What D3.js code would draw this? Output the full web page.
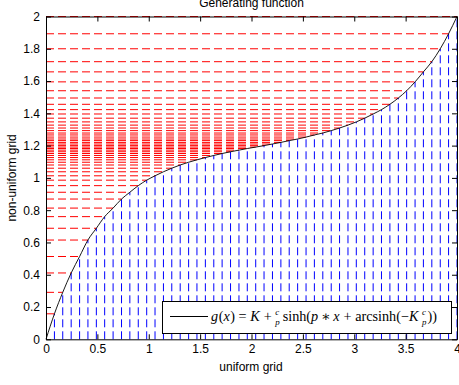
<!DOCTYPE html>
<html>
<head>
<meta charset="utf-8">
<script src="https://cdn.jsdelivr.net/npm/d3@7"></script>
<style>
  body { margin: 0; background: #fff; }
  svg text { font-family: Arial, "Liberation Sans", sans-serif; }
</style>
</head>
<body>
<svg id="chart" width="459" height="385"></svg>
<script>
// uniform grid points (x) and the generated non-uniform grid values g(x)
const uniformGrid = [
  0, 0.082, 0.163, 0.245, 0.327, 0.408, 0.490, 0.571, 0.653, 0.735,
  0.816, 0.898, 0.980, 1.061, 1.143, 1.224, 1.306, 1.388, 1.469, 1.551,
  1.633, 1.714, 1.796, 1.878, 1.959, 2.041, 2.122, 2.204, 2.286, 2.367,
  2.449, 2.531, 2.612, 2.694, 2.776, 2.857, 2.939, 3.020, 3.102, 3.184,
  3.265, 3.347, 3.429, 3.510, 3.592, 3.673, 3.755, 3.837, 3.918, 4.0
];
const nonUniformGrid = [
  0, 0.158, 0.291, 0.411, 0.513, 0.615, 0.688, 0.760, 0.813, 0.869,
  0.911, 0.952, 0.986, 1.013, 1.038, 1.060, 1.080, 1.097, 1.112, 1.126,
  1.139, 1.151, 1.162, 1.172, 1.182, 1.191, 1.200, 1.210, 1.220, 1.231,
  1.241, 1.253, 1.266, 1.278, 1.293, 1.309, 1.327, 1.347, 1.370, 1.396,
  1.423, 1.456, 1.495, 1.540, 1.595, 1.657, 1.720, 1.800, 1.893, 2.0
];
const xTicks = [0, 0.5, 1, 1.5, 2, 2.5, 3, 3.5, 4];
const yTicks = [0, 0.2, 0.4, 0.6, 0.8, 1, 1.2, 1.4, 1.6, 1.8, 2];

const svg = d3.select('#chart');

const x = d3.scaleLinear().domain([0, 4]).range([46, 457]);
const y = d3.scaleLinear().domain([0, 2]).range([339.3, 16.5]);

const pts = uniformGrid.map((d, i) => ({ x: d, g: nonUniformGrid[i] }));

// vertical blue lines: from the x axis up to the curve
svg.append('g').selectAll('line')
  .data(pts)
  .join('line')
    .attr('x1', d => x(d.x))
    .attr('x2', d => x(d.x))
    .attr('y1', y(0))
    .attr('y2', d => y(d.g))
    .attr('stroke', '#0000ff')
    .attr('stroke-width', 1)
    .attr('stroke-dasharray', '8,4');

// horizontal red lines: from the y axis across to the curve
svg.append('g').selectAll('line')
  .data(pts)
  .join('line')
    .attr('x1', x(0))
    .attr('x2', d => x(d.x))
    .attr('y1', d => y(d.g))
    .attr('y2', d => y(d.g))
    .attr('stroke', '#ff0000')
    .attr('stroke-width', 1)
    .attr('stroke-dasharray', '8,4');

// the generating function
const line = d3.line()
  .x(d => x(d.x))
  .y(d => y(d.g))
  .curve(d3.curveMonotoneX);

svg.append('path')
  .datum(pts)
  .attr('d', line)
  .attr('fill', 'none')
  .attr('stroke', '#000')
  .attr('stroke-width', 0.9);

// axes, ticks inward on all four sides
function styleAxis(g) {
  g.selectAll('.domain').attr('stroke', '#000');
  g.selectAll('.tick line').attr('stroke', '#000');
  g.selectAll('text').attr('font-size', 12).attr('fill', '#000')
    .style('font-family', 'Arial, "Liberation Sans", sans-serif');
}

svg.append('g')
  .attr('transform', `translate(0,${y(0)})`)
  .call(d3.axisBottom(x).tickValues(xTicks).tickFormat(d3.format('')).tickSizeInner(-5).tickSizeOuter(0).tickPadding(5))
  .call(styleAxis);

svg.append('g')
  .attr('transform', `translate(0,${y(2)})`)
  .call(d3.axisTop(x).tickValues(xTicks).tickFormat('').tickSizeInner(-5).tickSizeOuter(0))
  .call(styleAxis);

svg.append('g')
  .attr('transform', `translate(${x(0)},0)`)
  .call(d3.axisLeft(y).tickValues(yTicks).tickFormat(d3.format('')).tickSizeInner(-5).tickSizeOuter(0).tickPadding(6))
  .call(styleAxis);

svg.append('g')
  .attr('transform', `translate(${x(4)},0)`)
  .call(d3.axisRight(y).tickValues(yTicks).tickFormat('').tickSizeInner(-5).tickSizeOuter(0))
  .call(styleAxis);

// titles
svg.append('text')
  .attr('x', 251.5).attr('y', 7)
  .attr('text-anchor', 'middle')
  .attr('font-size', 12)
  .text('Generating function');

svg.append('text')
  .attr('x', 251).attr('y', 371)
  .attr('text-anchor', 'middle')
  .attr('font-size', 12)
  .text('uniform grid');

svg.append('text')
  .attr('transform', `translate(16,${(y(0) + y(2)) / 2}) rotate(-90)`)
  .attr('text-anchor', 'middle')
  .attr('font-size', 12)
  .text('non-uniform grid');

// legend
const leg = svg.append('g');
leg.append('rect')
  .attr('x', 162.5).attr('y', 301.5)
  .attr('width', 289).attr('height', 32)
  .attr('fill', '#fff')
  .attr('stroke', '#000');
leg.append('line')
  .attr('x1', 170).attr('x2', 208)
  .attr('y1', 316.5).attr('y2', 316.5)
  .attr('stroke', '#000');

// math label laid out piece by piece
const pieces = [
  { t: 'g', i: 1 }, { t: '(' }, { t: 'x', i: 1 }, { t: ')' }, { gap: 3 }, { t: '=' }, { gap: 3 },
  { t: 'K', i: 1 }, { gap: 3 }, { t: '+' }, { gap: 3 }, { f: ['c', 'p'] }, { gap: 2 },
  { t: 'sinh(' }, { t: 'p', i: 1 }, { gap: 2 }, { t: '\u2217' }, { gap: 2 }, { t: 'x', i: 1 },
  { gap: 3 }, { t: '+' }, { gap: 3 }, { t: 'arcsinh(\u2212' }, { t: 'K', i: 1 }, { gap: 2.5 },
  { f: ['c', 'p'] }, { gap: 0.5 }, { t: '))' }
];

const mathG = leg.append('g');
const fs = 12;
let cx = 0;
pieces.forEach(p => {
  if (p.gap) { cx += p.gap; return; }
  if (p.f) {
    const num = mathG.append('text').attr('x', cx).attr('y', -4.5)
      .attr('font-size', 7.5).attr('font-style', 'italic')
      .style('font-family', '"Liberation Serif", "DejaVu Serif", serif').text(p.f[0]);
    const den = mathG.append('text').attr('x', cx).attr('y', 3.5)
      .attr('font-size', 7.5).attr('font-style', 'italic')
      .style('font-family', '"Liberation Serif", "DejaVu Serif", serif').text(p.f[1]);
    const w = Math.max(num.node().getComputedTextLength(), den.node().getComputedTextLength());
    cx += w + 0.5;
    return;
  }
  const t = mathG.append('text').attr('x', cx).attr('y', 0)
    .attr('font-size', fs)
    .attr('font-style', p.i ? 'italic' : 'normal')
    .style('font-family', '"Liberation Serif", "DejaVu Serif", serif')
    .text(p.t);
  cx += t.node().getComputedTextLength() + (p.i ? 0.5 : 0);
});
const k = 226 / cx;
mathG.attr('transform', `translate(211,320.5) scale(${k})`);
</script>
</body>
</html>
